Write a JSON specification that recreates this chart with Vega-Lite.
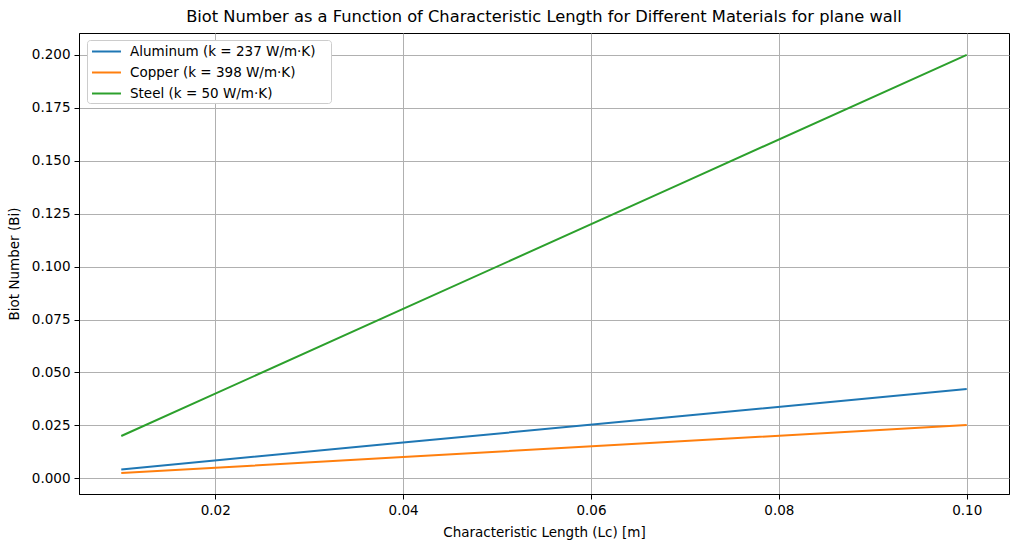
{
  "$schema": "https://vega.github.io/schema/vega-lite/v6.json",
  "autosize": {"type": "none"},
  "width": 930,
  "height": 461,
  "padding": {"left": 79, "top": 33, "right": 9, "bottom": 57},
  "background": "white",
  "title": {
    "text": "Biot Number as a Function of Characteristic Length for Different Materials for plane wall",
    "font": "DejaVu Sans",
    "fontSize": 16.3,
    "fontWeight": "normal",
    "color": "black",
    "anchor": "middle",
    "offset": 8
  },
  "data": {
    "values": [
      {"L": 0.01, "Bi": 0.00422, "material": "Aluminum (k = 237 W/m·K)"},
      {"L": 0.04, "Bi": 0.01688, "material": "Aluminum (k = 237 W/m·K)"},
      {"L": 0.07, "Bi": 0.02954, "material": "Aluminum (k = 237 W/m·K)"},
      {"L": 0.1, "Bi": 0.04219, "material": "Aluminum (k = 237 W/m·K)"},
      {"L": 0.01, "Bi": 0.00251, "material": "Copper (k = 398 W/m·K)"},
      {"L": 0.04, "Bi": 0.01005, "material": "Copper (k = 398 W/m·K)"},
      {"L": 0.07, "Bi": 0.01759, "material": "Copper (k = 398 W/m·K)"},
      {"L": 0.1, "Bi": 0.02513, "material": "Copper (k = 398 W/m·K)"},
      {"L": 0.01, "Bi": 0.02, "material": "Steel (k = 50 W/m·K)"},
      {"L": 0.04, "Bi": 0.08, "material": "Steel (k = 50 W/m·K)"},
      {"L": 0.07, "Bi": 0.14, "material": "Steel (k = 50 W/m·K)"},
      {"L": 0.1, "Bi": 0.2, "material": "Steel (k = 50 W/m·K)"}
    ]
  },
  "mark": {"type": "line", "strokeWidth": 2, "clip": true},
  "encoding": {
    "x": {
      "field": "L",
      "type": "quantitative",
      "scale": {"domain": [0.0055, 0.1045], "nice": false, "zero": false},
      "axis": {
        "title": "Characteristic Length (Lc) [m]",
        "values": [0.02, 0.04, 0.06, 0.08, 0.1],
        "format": ".2f",
        "titlePadding": 9
      }
    },
    "y": {
      "field": "Bi",
      "type": "quantitative",
      "scale": {"domain": [-0.0074, 0.2103], "nice": false, "zero": false},
      "axis": {
        "title": "Biot Number (Bi)",
        "values": [0, 0.025, 0.05, 0.075, 0.1, 0.125, 0.15, 0.175, 0.2],
        "format": ".3f",
        "titlePadding": 10
      }
    },
    "color": {
      "field": "material",
      "type": "nominal",
      "scale": {"range": ["#1f77b4", "#ff7f0e", "#2ca02c"]},
      "legend": {
        "title": null,
        "orient": "none",
        "legendX": 8,
        "legendY": 7,
        "symbolType": "M-0.62,0H2.14M21.7,0.52h0",
        "symbolSize": 441,
        "symbolStrokeWidth": 2,
        "symbolFillColor": "transparent",
        "labelFontSize": 13.5,
        "labelFont": "DejaVu Sans",
        "labelColor": "black",
        "labelLimit": 400,
        "labelOffset": 20,
        "rowPadding": 0,
        "padding": 0,
        "fillColor": "white",
        "strokeColor": "#cccccc",
        "cornerRadius": 3
      }
    }
  },
  "config": {
    "font": "DejaVu Sans",
    "view": {"stroke": "black", "strokeWidth": 1},
    "axis": {
      "labelFont": "DejaVu Sans",
      "labelFontSize": 13.5,
      "labelColor": "black",
      "titleFont": "DejaVu Sans",
      "titleFontSize": 13.5,
      "titleFontWeight": "normal",
      "titleColor": "black",
      "domainColor": "black",
      "domainWidth": 1,
      "tickColor": "black",
      "tickSize": 5,
      "tickWidth": 1,
      "labelPadding": 4,
      "grid": true,
      "gridColor": "#b0b0b0",
      "gridWidth": 1,
      "gridOpacity": 1
    }
  }
}
